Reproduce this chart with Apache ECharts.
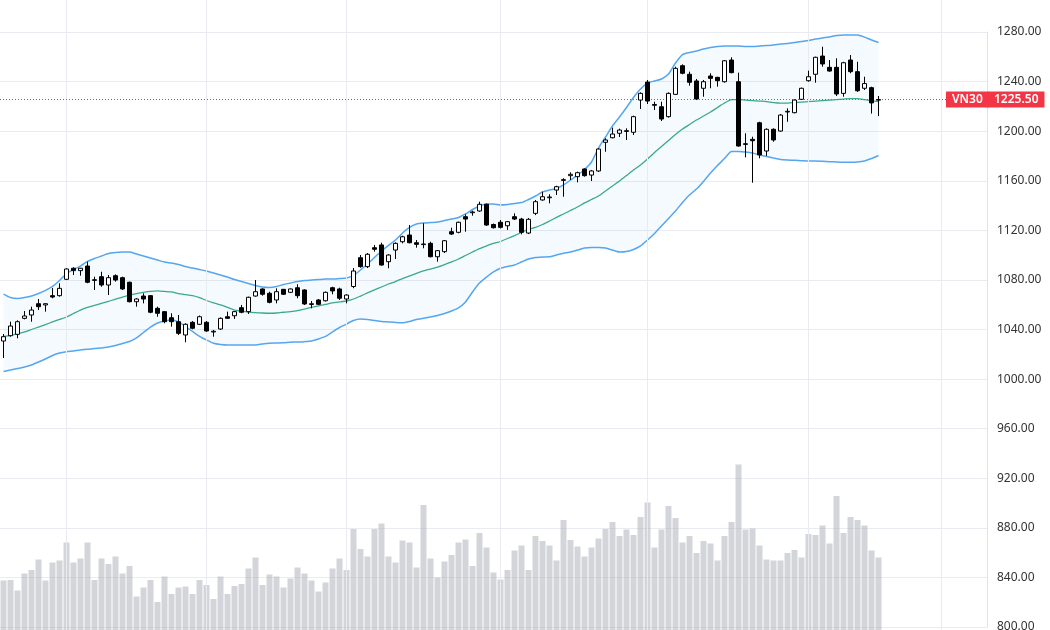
<!DOCTYPE html>
<html>
<head>
<meta charset="utf-8">
<title>VN30</title>
<script src="https://cdn.jsdelivr.net/npm/echarts@6/dist/echarts.min.js"></script>
<style>
  html, body { margin: 0; padding: 0; background: #fff; }
  #chart { width: 1050px; height: 630px; }
</style>
</head>
<body>
<div id="chart"></div>
<script>
const symbol = 'VN30'

// giá theo phiên
const opens = [1030.7,1035.0,1036.1,1049.0,1051.7,1060.8,1059.8,1067.3,1067.3,1080.5,
  1089.4,1087.5,1091.2,1079.6,1082.6,1075.9,1083.4,1081.8,1078.1,1062.4,
  1067.0,1067.3,1057.1,1054.4,1049.5,1046.3,1035.6,1045.8,1044.2,1045.8,
  1038.0,1040.4,1050.3,1051.1,1057.6,1054.4,1067.0,1072.7,1069.2,1063.8,
  1072.4,1070.0,1073.7,1071.9,1060.2,1063.8,1063.2,1073.7,1072.7,1064.6,
  1074.7,1097.9,1090.7,1106.0,1108.2,1094.7,1104.1,1110.8,1116.2,1110.0,
  1108.5,1109.5,1098.7,1102.8,1118.9,1118.4,1131.0,1134.2,1135.6,1141.0,
  1124.7,1126.5,1123.7,1131.0,1129.1,1117.8,1133.7,1144.5,1146.3,1152.5,
  1160.3,1164.1,1163.3,1169.5,1164.6,1167.9,1191.0,1194.7,1198.3,1199.8,
  1199.1,1225.1,1239.6,1221.5,1219.7,1211.7,1229.7,1252.8,1245.9,1240.5,
  1234.6,1244.5,1243.4,1239.9,1257.4,1239.9,1189.3,1193.4,1206.8,1184.0,
  1201.5,1200.1,1215.5,1214.9,1225.7,1240.7,1245.9,1260.6,1251.5,1251.5,
  1230.5,1257.4,1248.0,1234.6,1235.1,1225.0]
const closes = [1034.2,1042.8,1046.3,1050.9,1055.7,1058.4,1060.8,1066.2,1073.2,1088.8,
  1087.5,1089.4,1078.1,1080.2,1075.9,1081.8,1079.9,1072.7,1062.4,1064.6,
  1064.6,1053.9,1053.1,1046.3,1046.3,1036.9,1044.2,1041.0,1050.3,1038.8,
  1038.6,1049.0,1049.0,1054.4,1053.9,1066.0,1070.5,1068.4,1061.9,1070.5,
  1068.4,1072.7,1067.3,1060.6,1060.8,1060.3,1070.0,1071.1,1065.2,1067.8,
  1087.2,1090.7,1100.7,1104.7,1092.0,1100.1,1109.5,1114.8,1110.0,1108.7,
  1109.0,1098.7,1103.6,1111.6,1117.0,1126.5,1129.1,1134.8,1141.0,1124.3,
  1122.1,1122.4,1127.0,1129.1,1118.4,1128.9,1143.1,1147.1,1146.9,1155.2,
  1160.9,1165.2,1166.5,1164.1,1167.9,1185.6,1192.9,1197.7,1200.9,1200.4,
  1211.7,1230.5,1224.3,1220.9,1209.8,1230.5,1250.7,1246.7,1239.4,1225.9,
  1239.9,1242.6,1240.7,1256.8,1247.2,1188.0,1189.9,1192.3,1180.8,1201.5,
  1192.9,1213.0,1216.0,1225.1,1234.6,1243.9,1259.6,1254.2,1248.5,1230.0,
  1255.2,1248.0,1232.6,1238.4,1222.8,1225.5]
const lows = [1017.0,1034.2,1032.9,1048.2,1046.3,1055.7,1054.4,1065.2,1066.5,1079.9,
  1084.0,1083.4,1077.3,1071.9,1074.5,1067.8,1078.6,1071.9,1061.9,1058.4,
  1061.1,1053.1,1050.3,1045.0,1042.3,1035.6,1029.7,1040.2,1043.6,1038.2,
  1034.2,1039.6,1048.5,1048.5,1053.1,1052.5,1066.5,1067.3,1061.1,1061.1,
  1067.8,1069.4,1065.2,1059.8,1057.1,1059.8,1062.6,1068.4,1063.8,1061.1,
  1073.3,1089.8,1089.6,1102.8,1091.5,1089.4,1096.9,1109.5,1109.5,1106.0,
  1105.5,1098.2,1094.7,1101.7,1116.2,1117.6,1118.9,1131.8,1135.0,1123.6,
  1121.5,1121.5,1120.3,1128.3,1116.8,1117.0,1132.3,1143.9,1141.8,1148.5,
  1147.1,1160.6,1158.7,1163.3,1159.8,1167.1,1183.4,1194.2,1195.3,1192.9,
  1196.9,1217.9,1221.9,1217.1,1208.2,1210.9,1229.2,1245.9,1236.7,1225.1,
  1227.8,1234.6,1235.9,1239.1,1246.7,1187.5,1178.9,1158.4,1178.1,1180.0,
  1191.5,1199.6,1207.6,1214.4,1225.1,1239.9,1239.1,1252.0,1248.0,1228.4,
  1227.8,1246.7,1231.7,1233.2,1214.2,1212.1]
const highs = [1036.4,1046.3,1047.4,1054.9,1058.4,1064.6,1061.1,1073.5,1077.3,1089.4,
  1090.2,1089.6,1094.7,1082.6,1086.6,1084.0,1084.5,1082.6,1078.6,1065.2,
  1069.2,1067.8,1058.4,1054.9,1053.1,1051.7,1045.0,1046.8,1051.3,1046.8,
  1039.6,1049.8,1054.4,1054.9,1059.8,1066.5,1079.9,1073.2,1070.5,1073.2,
  1072.7,1073.1,1076.5,1072.4,1063.0,1064.6,1070.6,1074.5,1073.7,1068.4,
  1089.6,1100.1,1101.7,1108.2,1110.0,1100.7,1110.3,1115.7,1124.3,1112.2,
  1125.7,1110.8,1104.1,1112.2,1122.1,1127.0,1132.9,1135.8,1143.1,1141.6,
  1125.5,1128.3,1127.5,1133.7,1130.1,1129.9,1144.5,1151.2,1149.1,1156.0,
  1162.0,1166.8,1167.3,1170.0,1168.7,1186.2,1194.2,1202.8,1202.0,1202.3,
  1212.5,1231.3,1241.3,1223.8,1223.8,1231.3,1252.0,1253.9,1248.0,1242.1,
  1241.3,1246.7,1243.9,1257.4,1259.6,1247.2,1198.3,1195.5,1207.6,1202.3,
  1202.3,1213.8,1218.4,1225.6,1235.1,1248.8,1260.1,1268.1,1257.4,1258.8,
  1256.0,1261.4,1256.0,1243.9,1235.9,1228.4]

// khối lượng (triệu cp)
const volumes = [99,100,79,113,120,141,99,135,139,175,
  135,143,175,100,143,132,147,113,128,67,
  85,100,56,107,72,85,87,72,100,90,
  62,107,72,88,92,123,145,90,111,107,
  85,103,125,113,99,77,95,123,143,120,
  202,162,147,202,213,147,135,179,175,125,
  250,143,105,137,150,175,181,128,194,165,
  115,101,120,159,169,120,188,178,169,139,
  220,180,167,147,165,183,202,216,188,201,
  190,226,255,165,201,248,224,175,188,154,
  178,173,139,188,216,331,201,203,169,141,
  139,139,154,160,145,192,190,209,173,268,
  194,226,220,209,159,145]

// Bollinger Bands (20, 2)
const bbUpper = [1068.6,1065.8,1065.0,1065.8,1067.0,1069.0,1071.5,1074.7,1079.5,1085.2,
  1088.4,1091.2,1094.9,1097.3,1099.3,1101.3,1102.1,1102.5,1102.5,1100.9,
  1099.3,1097.7,1096.1,1094.4,1093.6,1092.4,1090.8,1089.6,1088.4,1087.2,
  1085.6,1084.0,1082.3,1080.3,1078.7,1077.1,1075.5,1074.3,1073.9,1074.7,
  1076.3,1077.5,1078.7,1079.5,1079.9,1080.3,1080.7,1080.7,1081.1,1081.5,
  1083.6,1088.0,1092.8,1098.1,1103.3,1107.8,1112.2,1117.8,1122.3,1125.1,
  1125.9,1126.3,1126.7,1127.9,1129.1,1130.3,1133.2,1136.8,1139.6,1141.2,
  1141.2,1140.4,1140.8,1141.6,1142.4,1144.9,1147.7,1150.9,1152.5,1153.7,
  1156.6,1160.6,1164.6,1169.1,1175.1,1186.4,1195.3,1204.2,1211.4,1219.1,
  1227.2,1234.0,1238.8,1240.5,1242.1,1246.1,1255.0,1261.8,1263.5,1264.7,
  1266.3,1267.5,1268.3,1268.7,1268.7,1268.7,1268.3,1268.3,1268.7,1269.1,
  1269.5,1270.3,1270.7,1271.5,1272.3,1273.1,1274.3,1275.2,1276.0,1277.2,
  1277.6,1277.6,1277.6,1275.9,1273.5,1271.5]
const bbMiddle = [1034.4,1035.2,1036.4,1038.0,1040.0,1042.0,1044.0,1046.1,1048.1,1050.1,
  1052.9,1055.7,1057.8,1059.4,1061.0,1062.6,1064.6,1066.2,1067.8,1069.0,
  1069.9,1070.7,1071.1,1070.7,1070.3,1069.0,1068.2,1067.4,1065.8,1063.4,
  1061.4,1059.8,1057.8,1055.7,1054.9,1054.1,1053.6,1053.3,1053.1,1053.3,
  1053.9,1054.5,1055.3,1056.5,1057.8,1059.0,1060.2,1061.4,1062.2,1063.0,
  1064.6,1067.0,1069.5,1071.9,1074.3,1076.7,1078.7,1081.1,1083.2,1085.3,
  1087.2,1088.8,1090.4,1092.4,1094.5,1096.9,1099.7,1102.5,1105.3,1107.4,
  1109.4,1111.0,1113.4,1115.8,1118.3,1120.7,1122.3,1124.7,1127.5,1130.4,
  1133.2,1136.0,1138.8,1142.1,1144.9,1147.7,1151.7,1155.8,1159.8,1164.2,
  1168.7,1172.7,1177.5,1182.8,1187.6,1192.5,1197.3,1201.7,1205.4,1209.0,
  1212.2,1215.5,1219.1,1222.7,1225.5,1225.5,1225.1,1224.7,1224.3,1223.9,
  1223.1,1222.7,1222.7,1223.1,1223.5,1223.9,1224.3,1224.7,1225.1,1225.5,
  1225.9,1226.3,1226.3,1225.5,1224.7,1223.9]
const bbLower = [1006.1,1007.3,1008.5,1009.7,1011.4,1013.8,1016.2,1019.0,1021.0,1022.1,
  1022.7,1023.5,1024.0,1024.7,1025.1,1025.9,1027.1,1028.7,1030.3,1033.2,
  1037.6,1042.0,1045.2,1046.9,1047.7,1046.1,1042.4,1038.4,1034.4,1031.5,
  1028.9,1027.9,1027.5,1027.5,1027.5,1027.5,1027.5,1028.3,1028.9,1029.1,
  1029.3,1029.7,1029.9,1030.2,1030.7,1032.3,1034.4,1038.0,1041.6,1044.4,
  1047.3,1048.5,1048.1,1047.3,1046.5,1046.1,1045.7,1045.5,1046.5,1048.1,
  1049.0,1050.1,1051.3,1052.9,1054.9,1057.4,1062.2,1070.3,1077.5,1082.3,
  1086.4,1089.4,1090.8,1092.0,1094.5,1096.9,1098.1,1098.5,1098.7,1100.1,
  1101.5,1102.5,1104.1,1105.8,1106.2,1106.2,1105.8,1104.1,1102.5,1102.9,
  1104.5,1107.4,1112.2,1117.4,1123.5,1129.6,1135.6,1142.4,1148.5,1153.3,
  1159.4,1166.2,1172.3,1177.9,1183.6,1183.6,1183.2,1182.4,1180.8,1179.6,
  1178.3,1177.1,1176.7,1176.5,1176.2,1175.9,1175.9,1175.7,1175.4,1175.1,
  1174.9,1174.9,1175.1,1175.9,1177.9,1180.4]

// phiên đầu tháng -> đường kẻ dọc
const monthStarts = [9, 29, 49, 71, 92, 115, 134]
// số ô trên trục thời gian (kể cả phần trống bên phải)
const slotCount = 141

const slots = Array.from({ length: slotCount }, (_, i) => String(i))
const candles = opens.map((o, i) => [o, closes[i], lows[i], highs[i]])
const bandWidth = bbUpper.map((u, i) => +(u - bbLower[i]).toFixed(1))
const lastClose = closes[closes.length - 1]

const chart = echarts.init(document.getElementById('chart'))

const red = '#f23645'
const redLabel = {
  show: true,
  position: 'end',
  color: '#fff',
  backgroundColor: red,
  fontFamily: 'Noto Sans',
  fontSize: 12,
  fontWeight: 600,
  padding: [2, 6, 2, 6],
}
const priceLineStyle = { color: red, type: [1, 2], width: 1 }

chart.setOption({
  animation: false,
  backgroundColor: '#ffffff',
  grid: [
    { left: 0, right: 63, top: 32, bottom: 3, outerBoundsMode: 'none' },
    { left: 0, right: 63, top: 0, bottom: 0, outerBoundsMode: 'none' },
  ],
  xAxis: [
    { type: 'category', gridIndex: 0, data: slots, boundaryGap: true, show: false },
    { type: 'category', gridIndex: 1, data: slots, boundaryGap: true, show: false },
  ],
  yAxis: [
    {
      type: 'value',
      gridIndex: 0,
      position: 'right',
      min: 800,
      max: 1280,
      interval: 40,
      axisLine: { show: true, lineStyle: { color: '#e0e3eb' } },
      axisTick: { show: false },
      splitLine: { lineStyle: { color: '#e9ebf0', width: 1 } },
      axisLabel: {
        margin: 10,
        color: '#333',
        fontFamily: 'Noto Sans',
        fontSize: 12,
        formatter: (v) => v.toFixed(2),
      },
    },
    {
      type: 'value',
      gridIndex: 1,
      min: 0,
      max: 1260,
      show: false,
      splitLine: { show: false },
    },
  ],
  series: [
    {
      name: 'Volume',
      type: 'bar',
      xAxisIndex: 1,
      yAxisIndex: 1,
      data: volumes,
      barCategoryGap: '14%',
      itemStyle: { color: 'rgba(170,172,182,0.5)' },
      silent: true,
      z: 1,
      markLine: {
        silent: true,
        symbol: 'none',
        label: { show: false },
        lineStyle: { color: '#e9ebf0', type: 'solid', width: 1 },
        data: monthStarts.map((i) => ({ xAxis: i })),
      },
    },
    {
      name: 'bb-base',
      type: 'line',
      stack: 'bb',
      data: bbLower,
      symbol: 'none',
      lineStyle: { opacity: 0 },
      silent: true,
      z: 2,
    },
    {
      name: 'bb-fill',
      type: 'line',
      stack: 'bb',
      data: bandWidth,
      symbol: 'none',
      lineStyle: { opacity: 0 },
      areaStyle: { color: 'rgba(33,150,243,0.06)' },
      silent: true,
      z: 2,
    },
    {
      name: 'Upper',
      type: 'line',
      data: bbUpper,
      symbol: 'none',
      smooth: 0.2,
      lineStyle: { color: '#55a6ef', width: 1.5 },
      z: 3,
    },
    {
      name: 'Lower',
      type: 'line',
      data: bbLower,
      symbol: 'none',
      smooth: 0.2,
      lineStyle: { color: '#55a6ef', width: 1.5 },
      z: 3,
    },
    {
      name: 'Basis',
      type: 'line',
      data: bbMiddle,
      symbol: 'none',
      smooth: 0.2,
      lineStyle: { color: '#3aa88f', width: 1.3 },
      z: 3,
    },
    {
      name: symbol,
      type: 'candlestick',
      data: candles,
      barWidth: 5,
      itemStyle: {
        color: '#ffffff',
        color0: '#000000',
        borderColor: '#000000',
        borderColor0: '#000000',
        borderWidth: 1,
      },
      z: 5,
    },
    {
      // đường giá đóng cửa gần nhất + nhãn trên trục
      name: 'last-price',
      type: 'line',
      data: [],
      color: red,
      z: 6,
      markLine: {
        silent: true,
        symbol: 'none',
        lineStyle: priceLineStyle,
        data: [
          { yAxis: lastClose, label: { ...redLabel, formatter: lastClose.toFixed(2), distance: 1 } },
          { yAxis: lastClose, label: { ...redLabel, formatter: symbol, distance: -41 } },
        ],
      },
    },
  ],
})
</script>
</body>
</html>
